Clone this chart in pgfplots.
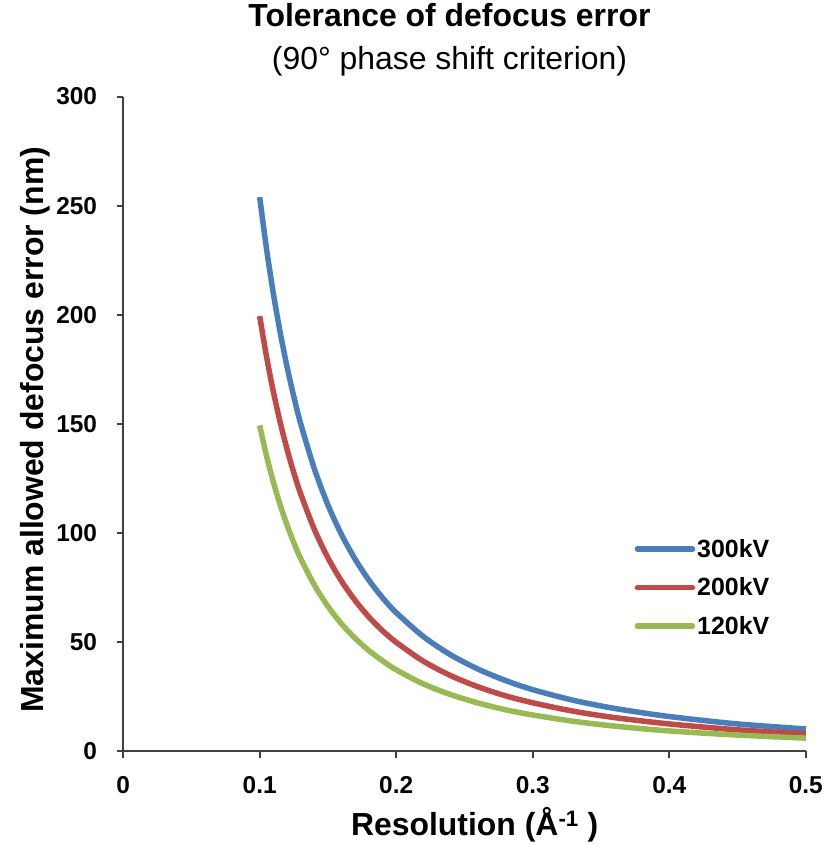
\documentclass[border=0pt]{standalone}
\usepackage{fontspec}
\setmainfont{Liberation Sans}
\usepackage{pgfplots}
\pgfplotsset{compat=1.18}
\definecolor{cblue}{HTML}{4A7EBB}
\definecolor{cred}{HTML}{BE4B48}
\definecolor{cgreen}{HTML}{98B954}
\definecolor{axgray}{HTML}{404040}
\begin{document}
\begin{tikzpicture}
\begin{axis}[
  scale only axis,
  width=682bp, height=654bp,
  xmin=0, xmax=0.5, ymin=0, ymax=300,
  axis x line=bottom, axis y line=left,
  axis line style={-, axgray, line width=2.2bp},
  tick style={axgray, line width=2bp},
  tick align=outside,
  major tick length=6.5bp,
  hide obscured x ticks=false,
  hide obscured y ticks=false,
  xtick={0,0.1,0.2,0.3,0.4,0.5},
  xticklabels={0,0.1,0.2,0.3,0.4,0.5},
  ytick={0,50,100,150,200,250,300},
  yticklabels={0,50,100,150,200,250,300},
  ticklabel style={font=\fontsize{24.5}{29}\selectfont\bfseries},
  xticklabel style={yshift=-15bp},
  yticklabel style={xshift=-16bp},
  xlabel={Resolution (Å\textsuperscript{-1} )},
  ylabel={Maximum allowed defocus error (nm)},
  label style={font=\fontsize{32}{38}\selectfont\bfseries},
  xlabel style={at={(rel axis cs:0.515,0)}, anchor=center, yshift=-73bp},
  ylabel style={at={(rel axis cs:-0.129,0.491)}, anchor=center},
  legend style={at={(rel axis cs:0.749,0.327)}, anchor=north west, draw=none, fill=none,
    font=\fontsize{25}{30}\selectfont\bfseries, row sep=15bp, inner sep=0pt},
  legend cell align=left,
  legend image code/.code={\draw[#1, line cap=round] (0bp,0bp) -- (55bp,0bp);},
  clip=false,
]
\addplot[cblue, line width=5.5bp, smooth] coordinates {
(0.100,253.9) (0.105,230.3) (0.110,209.8) (0.115,192.0) (0.120,176.3) (0.125,162.5)
(0.130,150.2) (0.140,129.5) (0.150,112.8) (0.160,99.2) (0.170,87.9) (0.180,78.4)
(0.190,70.3) (0.200,63.5) (0.220,52.5) (0.240,44.1) (0.260,37.6) (0.280,32.4)
(0.300,28.2) (0.330,23.3) (0.360,19.6) (0.400,15.9) (0.450,12.5) (0.500,10.2)};
\addlegendentry{300kV}
\addplot[cred, line width=5.5bp, smooth] coordinates {
(0.100,199.4) (0.105,180.9) (0.110,164.8) (0.115,150.8) (0.120,138.5) (0.125,127.6)
(0.130,118.0) (0.140,101.7) (0.150,88.6) (0.160,77.9) (0.170,69.0) (0.180,61.5)
(0.190,55.2) (0.200,49.9) (0.220,41.2) (0.240,34.6) (0.260,29.5) (0.280,25.4)
(0.300,22.2) (0.330,18.3) (0.360,15.4) (0.400,12.5) (0.450,9.8) (0.500,8.0)};
\addlegendentry{200kV}
\addplot[cgreen, line width=5.5bp, smooth] coordinates {
(0.100,149.3) (0.105,135.4) (0.110,123.4) (0.115,112.9) (0.120,103.7) (0.125,95.6)
(0.130,88.3) (0.140,76.2) (0.150,66.4) (0.160,58.3) (0.170,51.7) (0.180,46.1)
(0.190,41.4) (0.200,37.3) (0.220,30.8) (0.240,25.9) (0.260,22.1) (0.280,19.0)
(0.300,16.6) (0.330,13.7) (0.360,11.5) (0.400,9.3) (0.450,7.4) (0.500,6.0)};
\addlegendentry{120kV}
\node[anchor=base, font=\fontsize{32}{38}\selectfont\bfseries] at ([yshift=70bp]rel axis cs:0.478,1) {Tolerance of defocus error};
\node[anchor=base, font=\fontsize{32}{38}\selectfont] at ([yshift=27bp]rel axis cs:0.478,1) {(90° phase shift criterion)};
\path ([xshift=-123bp]rel axis cs:0,0.5) coordinate (leftpad);
\end{axis}
\end{tikzpicture}
\end{document}
